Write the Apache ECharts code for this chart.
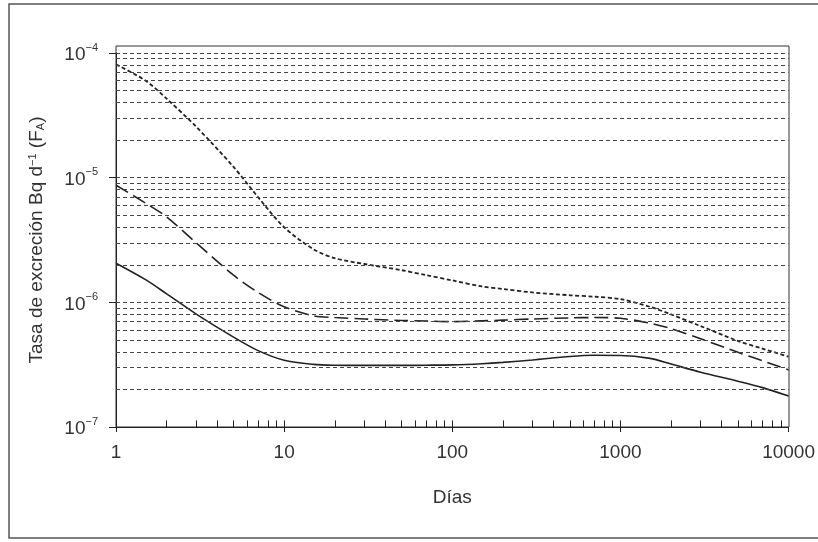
<!DOCTYPE html>
<html>
<head>
<meta charset="utf-8">
<script src="https://cdn.jsdelivr.net/npm/echarts@6/dist/echarts.min.js"></script>
<style>
  html, body { margin: 0; padding: 0; background: #fff; }
  #chart { width: 818px; height: 542px; }
</style>
</head>
<body>
<div id="chart"></div>
<script>
// days (x) and excretion rate (y)
const days = [1, 1.5, 2, 3, 5, 7, 10, 15, 20, 30, 50, 70, 100, 150, 200, 300, 500, 700, 1000, 1500, 2000, 3000, 5000, 7000, 10000]

const shortRate = [8.1e-5, 6.0e-5, 4.3e-5, 2.56e-5, 1.22e-5, 6.97e-6, 4.0e-6, 2.66e-6, 2.26e-6, 2.03e-6, 1.81e-6, 1.65e-6, 1.5e-6, 1.34e-6, 1.28e-6, 1.2e-6, 1.14e-6, 1.11e-6, 1.06e-6, 9.2e-7, 8.0e-7, 6.45e-7, 4.9e-7, 4.25e-7, 3.67e-7]

const longRate = [8.7e-6, 6.25e-6, 4.85e-6, 3.0e-6, 1.65e-6, 1.2e-6, 9.2e-7, 7.8e-7, 7.55e-7, 7.35e-7, 7.15e-7, 7.08e-7, 7.0e-7, 7.1e-7, 7.2e-7, 7.35e-7, 7.5e-7, 7.55e-7, 7.45e-7, 6.8e-7, 6.15e-7, 5.1e-7, 3.97e-7, 3.4e-7, 2.87e-7]

const solidRate = [2.06e-6, 1.52e-6, 1.17e-6, 8.05e-7, 5.26e-7, 4.1e-7, 3.43e-7, 3.18e-7, 3.13e-7, 3.12e-7, 3.12e-7, 3.13e-7, 3.15e-7, 3.22e-7, 3.3e-7, 3.45e-7, 3.68e-7, 3.76e-7, 3.75e-7, 3.55e-7, 3.2e-7, 2.75e-7, 2.33e-7, 2.07e-7, 1.77e-7]

// axis decades and the dashed grid multipliers
const yDecades = [1e-7, 1e-6, 1e-5]
const xDecades = [1, 10, 100, 1000]
const multipliers = [1, 2, 3, 4, 5, 6, 7, 8, 9]

const font = '"Liberation Sans", Arial, sans-serif'
const textColor = '#333'

const pairs = ys => days.map((x, i) => [x, ys[i]])

// horizontal dashed lines at every 1..9 x 10^n (skip the axis line itself)
const gridValues = []
yDecades.forEach(d => {
	multipliers.forEach(m => {
		if (d * m > 1e-7) gridValues.push(d * m)
	})
})
gridValues.push(1e-4)
const gridLines = gridValues.map(v => [{ coord: [1, v] }, { coord: [10000, v] }])

// small upward ticks along the bottom axis
const xTicks = []
xDecades.forEach(d => {
	multipliers.forEach(m => {
		const v = d * m
		if (v === 1) return
		xTicks.push([{ coord: [v, 1e-7] }, { coord: [v, 1.13e-7] }])
	})
})

const chart = echarts.init(document.getElementById('chart'))

chart.setOption({
	backgroundColor: '#fff',
	animation: false,
	textStyle: { fontFamily: font },
	graphic: [{
		type: 'rect',
		shape: { x: 9, y: 4, width: 840, height: 534 },
		style: { fill: 'none', stroke: '#555', lineWidth: 1.5 },
		silent: true
	}],
	grid: [{
		left: 116,
		right: 29,
		top: 53,
		bottom: 115
	}, {
		// outer plot frame, reaching a little above 10^-4
		left: 116,
		right: 29,
		top: 46,
		bottom: 115,
		show: true,
		borderColor: '#333',
		borderWidth: 1
	}],
	xAxis: [{
		type: 'log',
		gridIndex: 0,
		min: 1,
		max: 10000,
		name: 'Días',
		nameLocation: 'middle',
		nameGap: 61,
		nameTextStyle: { fontSize: 19, color: textColor, fontFamily: font },
		axisLine: { lineStyle: { color: '#222', width: 1 } },
		axisTick: { show: true, length: 5, lineStyle: { color: '#222' } },
		axisLabel: {
			fontSize: 19,
			color: textColor,
			margin: 16,
			fontFamily: font,
			formatter: v => String(Math.round(v))
		},
		splitLine: { show: false }
	}, {
		type: 'value',
		gridIndex: 1,
		show: false
	}],
	yAxis: [{
		type: 'log',
		gridIndex: 0,
		min: 1e-7,
		max: 1e-4,
		name: 'Tasa de excreción Bq d{s|−1} (F{sub|A})',
		nameLocation: 'middle',
		nameGap: 70,
		nameTextStyle: {
			fontSize: 19,
			color: textColor,
			fontFamily: font,
			rich: {
				s: { fontSize: 11, verticalAlign: 'top', color: textColor, fontFamily: font },
				sub: { fontSize: 11, verticalAlign: 'bottom', color: textColor, fontFamily: font }
			}
		},
		axisLine: { show: true, lineStyle: { color: '#222', width: 1 } },
		axisTick: { show: true, length: 7, lineStyle: { color: '#222' } },
		axisLabel: {
			margin: 18,
			formatter: v => '{b|10}{s|−' + Math.round(-Math.log10(v)) + '}',
			rich: {
				b: { fontSize: 19, color: textColor, fontFamily: font, lineHeight: 22, padding: [4, 0, 0, 0] },
				s: { fontSize: 11, color: textColor, fontFamily: font, verticalAlign: 'top', lineHeight: 22 }
			}
		},
		splitLine: { show: false }
	}, {
		type: 'value',
		gridIndex: 1,
		show: false
	}],
	series: [{
		name: 'short',
		type: 'line',
		data: pairs(shortRate),
		smooth: 0.3,
		showSymbol: false,
		lineStyle: { color: '#222', width: 1.8, type: [4, 2.5] },
		markLine: {
			silent: true,
			symbol: 'none',
			label: { show: false },
			lineStyle: { color: '#444', width: 1, type: [4, 3] },
			data: gridLines
		}
	}, {
		name: 'long',
		type: 'line',
		data: pairs(longRate),
		smooth: 0.3,
		showSymbol: false,
		lineStyle: { color: '#222', width: 1.6, type: [14, 6] },
		markLine: {
			silent: true,
			symbol: 'none',
			label: { show: false },
			lineStyle: { color: '#222', width: 1, type: 'solid' },
			data: xTicks
		}
	}, {
		name: 'solid',
		type: 'line',
		data: pairs(solidRate),
		smooth: 0.3,
		showSymbol: false,
		lineStyle: { color: '#222', width: 1.6 }
	}]
})
</script>
</body>
</html>
